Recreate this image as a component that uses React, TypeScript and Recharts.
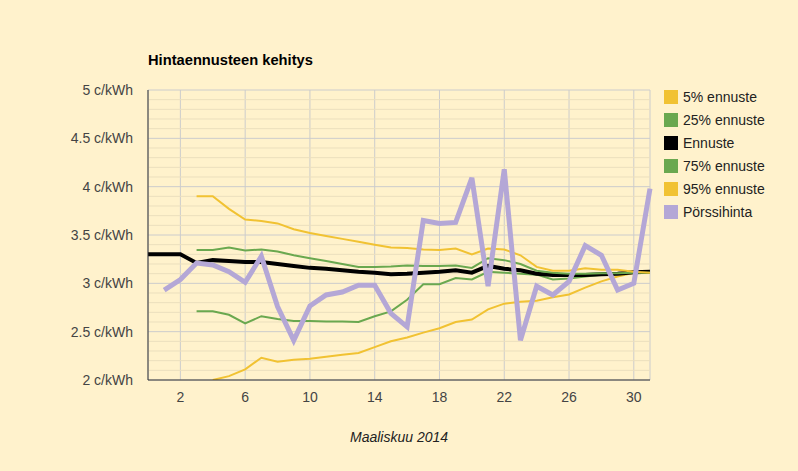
import React from 'react';
import { LineChart, Line, XAxis, YAxis, CartesianGrid, ReferenceLine } from 'recharts';

const days = [0, 1, 2, 3, 4, 5, 6, 7, 8, 9, 10, 11, 12, 13, 14, 15, 16, 17, 18, 19, 20, 21, 22, 23, 24, 25, 26, 27, 28, 29, 30, 31];

const p5 = [null, null, null, null, 2.0, 2.04, 2.11, 2.23, 2.19, 2.21, 2.22, 2.24, 2.26, 2.28, 2.34, 2.4, 2.44, 2.49, 2.535, 2.6, 2.625, 2.73, 2.79, 2.81, 2.82, 2.855, 2.885, 2.955, 3.02, 3.07, 3.11, 3.11];
const p25 = [null, null, null, 2.71, 2.71, 2.675, 2.585, 2.66, 2.63, 2.61, 2.61, 2.605, 2.605, 2.6, 2.66, 2.71, 2.83, 2.99, 2.99, 3.055, 3.04, 3.12, 3.11, 3.1, 3.09, 3.04, 3.05, 3.07, 3.09, 3.1, 3.11, 3.11];
const ennuste = [3.3, 3.3, 3.3, 3.21, 3.24, 3.23, 3.22, 3.22, 3.2, 3.18, 3.16, 3.15, 3.135, 3.12, 3.11, 3.095, 3.1, 3.11, 3.12, 3.135, 3.11, 3.18, 3.15, 3.135, 3.1, 3.085, 3.085, 3.085, 3.095, 3.1, 3.115, 3.12];
const p75 = [null, null, null, 3.345, 3.345, 3.37, 3.34, 3.35, 3.33, 3.29, 3.26, 3.23, 3.2, 3.17, 3.17, 3.175, 3.185, 3.18, 3.18, 3.185, 3.16, 3.26, 3.24, 3.2, 3.13, 3.11, 3.1, 3.1, 3.105, 3.105, 3.11, 3.11];
const p95 = [null, null, null, 3.9, 3.9, 3.77, 3.66, 3.645, 3.62, 3.56, 3.52, 3.49, 3.46, 3.43, 3.4, 3.37, 3.365, 3.35, 3.345, 3.36, 3.3, 3.36, 3.35, 3.29, 3.17, 3.13, 3.13, 3.155, 3.14, 3.14, 3.12, 3.11];
const porssi = [null, 2.93, 3.04, 3.21, 3.19, 3.12, 3.01, 3.28, 2.76, 2.41, 2.765, 2.88, 2.91, 2.98, 2.98, 2.69, 2.55, 3.65, 3.62, 3.63, 4.09, 2.97, 4.18, 2.41, 2.97, 2.88, 3.02, 3.39, 3.29, 2.93, 3.0, 3.98];

const xTicks = [2, 6, 10, 14, 18, 22, 26, 30];
const yTicks = [2, 2.5, 3, 3.5, 4, 4.5, 5];
const yMinor = [2.1, 2.2, 2.3, 2.4, 2.6, 2.7, 2.8, 2.9, 3.1, 3.2, 3.3, 3.4, 3.6, 3.7, 3.8, 3.9, 4.1, 4.2, 4.3, 4.4, 4.6, 4.7, 4.8, 4.9];

const seriesKeys = ['p5', 'p25', 'ennuste', 'p75', 'p95', 'porssi'];
const seriesNames = ['5% ennuste', '25% ennuste', 'Ennuste', '75% ennuste', '95% ennuste', 'Pörssihinta'];

const title = 'Hintaennusteen kehitys';
const xTitle = 'Maaliskuu 2014';

const data = days.map((d, i) => ({
  day: d,
  p5: p5[i],
  p25: p25[i],
  ennuste: ennuste[i],
  p75: p75[i],
  p95: p95[i],
  porssi: porssi[i],
}));

const FONT = 'Arial, "Liberation Sans", sans-serif';
const colors: Record<string, string> = {
  p5: '#f1c232',
  p25: '#6aa84f',
  ennuste: '#000000',
  p75: '#6aa84f',
  p95: '#f1c232',
  porssi: '#b4a7d6',
};
const widths: Record<string, number> = { p5: 2, p25: 2, ennuste: 4, p75: 2, p95: 2, porssi: 5 };

export default function App() {
  return (
    <div style={{ position: 'absolute', left: 0, top: 0, width: 798, height: 471, background: '#fff2cc', overflow: 'hidden' }}>
      <div style={{ position: 'absolute', left: 148, top: 52.6, fontFamily: FONT, fontWeight: 'bold', fontSize: 14.7, lineHeight: 1, color: '#000', whiteSpace: 'nowrap' }}>
        {title}
      </div>
      <LineChart width={798} height={471} data={data} margin={{ top: 90, right: 148, bottom: 61, left: 0 }}>
        {yMinor.map((v) => (
          <ReferenceLine key={v} y={v} stroke="#ebdfbd" strokeWidth={1} />
        ))}
        <CartesianGrid stroke="#cccccc" strokeWidth={1} />
        <XAxis
          dataKey="day"
          type="number"
          domain={[0, 31]}
          ticks={xTicks}
          tickLine={false}
          axisLine={{ stroke: '#333333' }}
          tick={{ fill: '#444444', fontSize: 14, fontFamily: FONT }}
          tickMargin={6}
          height={30}
          interval={0}
        />
        <YAxis
          type="number"
          domain={[2, 5]}
          ticks={yTicks}
          tickLine={false}
          axisLine={{ stroke: '#333333' }}
          tick={{ fill: '#444444', fontSize: 14, fontFamily: FONT }}
          tickFormatter={(v: number) => `${v} c/kWh`}
          tickMargin={9}
          width={148}
          interval={0}
          allowDataOverflow
        />
        {seriesKeys.map((k, i) => (
          <Line
            key={k}
            type="linear"
            dataKey={k}
            name={seriesNames[i]}
            stroke={colors[k]}
            strokeWidth={widths[k]}
            dot={false}
            activeDot={false}
            isAnimationActive={false}
          />
        ))}
      </LineChart>
      <div style={{ position: 'absolute', left: 664, top: 85.5, fontFamily: FONT, fontSize: 14, color: '#222' }}>
        {seriesKeys.map((k, i) => (
          <div key={k} style={{ display: 'flex', alignItems: 'center', height: 23 }}>
            <div style={{ width: 14, height: 14, background: colors[k], marginRight: 5 }} />
            <span style={{ whiteSpace: 'nowrap' }}>{seriesNames[i]}</span>
          </div>
        ))}
      </div>
      <div style={{ position: 'absolute', left: 148, width: 502, top: 429.8, textAlign: 'center', fontFamily: FONT, fontStyle: 'italic', fontSize: 14, lineHeight: 1, color: '#222' }}>
        {xTitle}
      </div>
    </div>
  );
}
